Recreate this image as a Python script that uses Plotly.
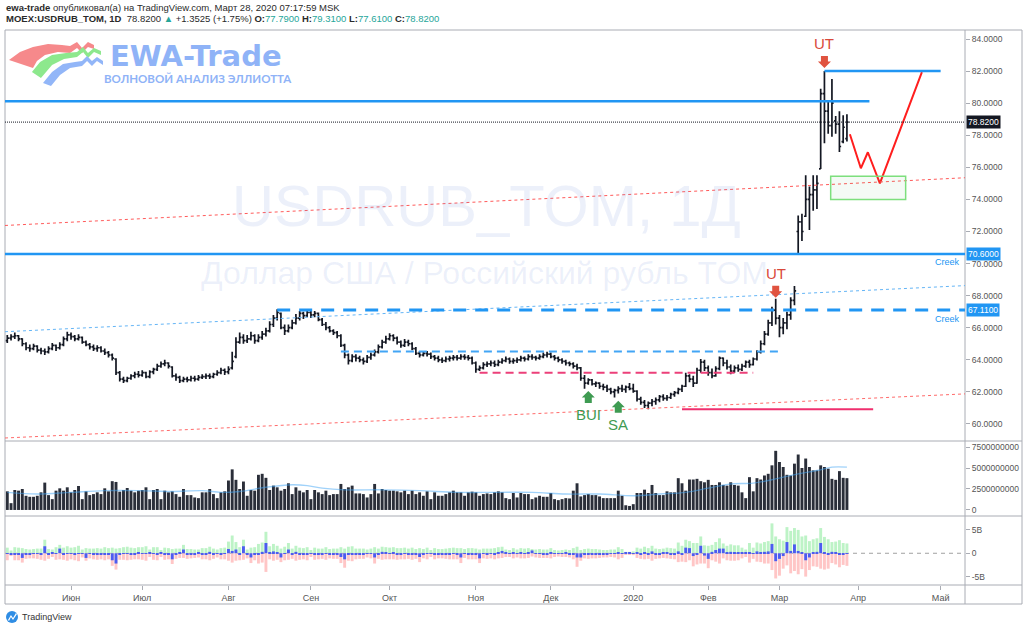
"""USDRUB_TOM daily chart (TradingView snapshot by ewa-trade) rebuilt with Plotly."""

import pandas as pd
import plotly.graph_objects as go

W, H = 1024, 629
FONT = "Liberation Sans"

# trading calendar: MOEX business days, Russian holidays removed
HOLIDAYS = ["2019-05-09", "2019-05-10", "2019-06-12", "2019-11-04", "2020-01-01",
            "2020-01-02", "2020-01-07", "2020-02-24", "2020-03-09"]
DATES = [d.strftime("%Y-%m-%d") for d in pd.bdate_range("2019-05-07", "2020-03-27")]
DATES = [d for d in DATES if d not in HOLIDAYS]

TICK_DATES = ["2019-06-03", "2019-07-01", "2019-08-01", "2019-09-02", "2019-10-01", "2019-11-01",
              "2019-12-02", "2020-01-03", "2020-02-03", "2020-03-02", "2020-04-01", "2020-05-01"]
TICK_TEXT = ["Июн", "Июл", "Авг", "Сен", "Окт", "Ноя", "Дек", "2020", "Фев", "Мар", "Апр", "Май"]

OPEN = [
    65.20, 65.35, 65.45, 65.50, 65.30, 65.00, 64.75, 64.70, 64.85, 64.60, 64.55, 64.50, 64.70, 64.90, 64.75,
    64.95, 65.30, 65.55, 65.45, 65.30, 65.40, 65.10, 64.95, 64.80, 64.70, 64.75, 64.55, 64.45, 64.30, 64.05,
    63.20, 62.80, 62.70, 62.85, 63.00, 63.10, 63.05, 63.20, 62.95, 63.25, 63.40, 63.60, 63.75, 63.80, 63.55,
    63.00, 62.90, 62.70, 62.80, 62.75, 62.85, 62.80, 62.90, 62.95, 63.00, 62.95, 63.10, 63.20, 63.35, 63.25,
    63.50, 64.20, 65.10, 65.40, 65.20, 65.30, 65.50, 65.20, 65.40, 65.60, 65.80, 66.20, 66.60, 66.90, 66.00,
    65.80, 66.00, 66.30, 66.60, 66.90, 66.75, 66.95, 66.80, 66.90, 66.50, 66.20, 66.00, 65.80, 65.70, 65.50,
    64.90, 64.30, 63.95, 64.20, 64.10, 64.00, 63.90, 64.15, 64.30, 64.50, 64.80, 65.10, 65.30, 65.50, 65.35,
    65.10, 64.90, 65.10, 65.00, 64.70, 64.40, 64.30, 64.40, 64.35, 64.20, 64.10, 64.00, 63.95, 64.05, 64.10,
    64.15, 64.10, 64.20, 64.15, 64.10, 63.80, 63.40, 63.50, 63.70, 63.75, 63.80, 63.70, 63.85, 63.95, 64.05,
    63.90, 63.95, 64.00, 64.10, 64.05, 64.20, 64.15, 64.10, 64.20, 64.30, 64.35, 64.20, 64.10, 64.00, 63.90,
    63.80, 63.75, 63.60, 63.50, 62.85, 62.55, 62.75, 62.50, 62.55, 62.35, 62.30, 62.15, 62.00, 62.10, 62.20,
    62.15, 62.30, 62.20, 62.05, 61.55, 61.35, 61.15, 61.30, 61.40, 61.50, 61.70, 61.60, 61.65, 61.85, 61.95,
    62.15, 62.35, 63.00, 62.80, 62.55, 63.35, 63.85, 63.50, 63.20, 63.00, 63.45, 64.10, 63.80, 63.55, 63.30,
    63.50, 63.40, 63.60, 63.85, 63.70, 64.05, 64.50, 65.00, 65.60, 66.30, 67.10, 66.60, 66.00, 66.30, 66.80,
    67.70, 72.00, 72.60, 72.95, 74.00, 74.30, 74.60, 75.90, 80.60, 79.50, 78.60, 78.90, 78.70, 77.60, 77.79,
]
HIGH = [
    65.55, 65.60, 65.70, 65.55, 65.35, 65.10, 64.95, 65.00, 64.90, 64.75, 64.70, 64.85, 65.05, 64.95, 65.10,
    65.45, 65.75, 65.70, 65.55, 65.60, 65.45, 65.20, 65.05, 64.95, 64.90, 64.85, 64.70, 64.55, 64.40, 64.10,
    63.30, 62.95, 62.95, 63.10, 63.25, 63.30, 63.35, 63.25, 63.35, 63.50, 63.75, 63.90, 64.00, 63.85, 63.60,
    63.15, 63.00, 62.95, 62.95, 63.00, 63.00, 63.05, 63.10, 63.15, 63.15, 63.20, 63.35, 63.50, 63.45, 63.60,
    64.50, 65.40, 65.70, 65.60, 65.55, 65.75, 65.60, 65.60, 65.80, 66.00, 66.40, 66.80, 67.15, 66.95, 66.20,
    66.20, 66.50, 66.85, 67.05, 67.00, 67.10, 67.05, 67.05, 66.95, 66.60, 66.35, 66.10, 65.90, 65.80, 65.60,
    65.00, 64.40, 64.35, 64.35, 64.25, 64.15, 64.30, 64.45, 64.65, 64.95, 65.25, 65.50, 65.65, 65.60, 65.45,
    65.20, 65.30, 65.25, 65.10, 64.80, 64.55, 64.55, 64.55, 64.45, 64.30, 64.25, 64.15, 64.20, 64.25, 64.30,
    64.30, 64.35, 64.35, 64.30, 64.20, 63.90, 63.65, 63.85, 63.90, 63.95, 63.95, 64.00, 64.10, 64.20, 64.15,
    64.10, 64.15, 64.25, 64.20, 64.35, 64.35, 64.25, 64.35, 64.45, 64.50, 64.45, 64.30, 64.20, 64.10, 64.00,
    63.90, 63.85, 63.75, 63.55, 63.05, 62.85, 62.80, 62.65, 62.60, 62.50, 62.45, 62.25, 62.20, 62.35, 62.45,
    62.40, 62.55, 62.50, 62.10, 61.70, 61.50, 61.40, 61.55, 61.65, 61.80, 61.85, 61.80, 61.95, 62.05, 62.25,
    62.45, 63.20, 63.10, 63.00, 63.50, 64.05, 64.00, 63.65, 63.45, 63.60, 64.20, 64.15, 64.00, 63.70, 63.65,
    63.70, 63.75, 63.95, 64.00, 64.15, 64.60, 65.20, 65.80, 66.50, 67.30, 67.80, 66.80, 66.60, 67.00, 67.90,
    68.60, 73.00, 73.10, 75.50, 74.80, 75.50, 75.50, 80.90, 82.00, 80.20, 81.50, 79.20, 79.50, 79.25, 79.31,
]
LOW = [
    65.05, 65.20, 65.30, 65.15, 64.85, 64.60, 64.50, 64.60, 64.45, 64.35, 64.30, 64.40, 64.60, 64.55, 64.65,
    64.85, 65.15, 65.25, 65.15, 65.20, 65.00, 64.85, 64.65, 64.55, 64.50, 64.45, 64.30, 64.15, 63.95, 63.05,
    62.65, 62.55, 62.60, 62.75, 62.85, 62.90, 62.95, 62.85, 62.85, 63.10, 63.30, 63.50, 63.60, 63.45, 62.90,
    62.70, 62.55, 62.60, 62.60, 62.65, 62.65, 62.70, 62.80, 62.80, 62.80, 62.85, 63.00, 63.10, 63.05, 63.10,
    63.40, 64.10, 65.00, 65.00, 65.05, 65.20, 65.00, 65.10, 65.25, 65.45, 65.70, 66.05, 66.45, 65.90, 65.55,
    65.70, 65.90, 66.20, 66.45, 66.55, 66.65, 66.60, 66.65, 66.40, 66.10, 65.85, 65.70, 65.55, 65.35, 64.80,
    64.10, 63.70, 63.85, 63.90, 63.85, 63.70, 63.80, 64.00, 64.20, 64.40, 64.70, 65.00, 65.20, 65.15, 64.95,
    64.75, 64.80, 64.85, 64.60, 64.30, 64.15, 64.20, 64.20, 64.05, 63.95, 63.85, 63.80, 63.85, 63.90, 63.95,
    63.95, 64.00, 64.00, 63.95, 63.70, 63.20, 63.30, 63.40, 63.55, 63.60, 63.55, 63.60, 63.75, 63.85, 63.75,
    63.75, 63.80, 63.90, 63.90, 63.95, 64.00, 63.95, 64.00, 64.10, 64.15, 64.10, 63.95, 63.85, 63.75, 63.65,
    63.60, 63.45, 63.35, 62.70, 62.20, 62.45, 62.40, 62.30, 62.20, 62.10, 62.00, 61.85, 61.65, 61.90, 62.00,
    61.95, 62.10, 61.95, 61.40, 61.20, 61.00, 60.92, 61.10, 61.20, 61.35, 61.45, 61.45, 61.55, 61.70, 61.85,
    62.00, 62.30, 62.60, 62.30, 62.50, 63.20, 63.30, 63.00, 62.85, 62.95, 63.35, 63.60, 63.40, 63.10, 63.20,
    63.25, 63.30, 63.50, 63.50, 63.65, 63.95, 64.40, 64.90, 65.50, 66.10, 66.20, 65.40, 65.60, 65.90, 66.50,
    67.40, 70.60, 71.40, 72.90, 72.10, 73.30, 73.40, 75.90, 77.50, 78.10, 77.90, 78.10, 76.95, 77.50, 77.61,
]
CLOSE = [
    65.35, 65.45, 65.50, 65.30, 65.00, 64.75, 64.70, 64.85, 64.60, 64.55, 64.50, 64.70, 64.90, 64.75, 64.95,
    65.30, 65.55, 65.45, 65.30, 65.40, 65.10, 64.95, 64.80, 64.70, 64.75, 64.55, 64.45, 64.30, 64.10, 63.20,
    62.80, 62.70, 62.85, 63.00, 63.10, 63.05, 63.20, 62.95, 63.25, 63.40, 63.60, 63.75, 63.80, 63.60, 63.00,
    62.90, 62.70, 62.80, 62.75, 62.85, 62.80, 62.90, 62.95, 63.00, 62.95, 63.10, 63.20, 63.35, 63.25, 63.40,
    63.90, 65.10, 65.40, 65.20, 65.30, 65.50, 65.20, 65.40, 65.60, 65.80, 66.20, 66.60, 66.95, 66.00, 65.80,
    66.00, 66.30, 66.60, 66.90, 66.75, 66.95, 66.80, 66.90, 66.50, 66.20, 66.00, 65.80, 65.70, 65.50, 64.90,
    64.30, 63.95, 64.20, 64.10, 64.00, 63.90, 64.15, 64.30, 64.50, 64.80, 65.10, 65.30, 65.50, 65.35, 65.10,
    64.90, 65.10, 65.00, 64.70, 64.40, 64.30, 64.40, 64.35, 64.20, 64.10, 64.00, 63.95, 64.05, 64.10, 64.15,
    64.10, 64.20, 64.15, 64.10, 63.80, 63.40, 63.50, 63.70, 63.75, 63.80, 63.70, 63.85, 63.95, 64.05, 63.90,
    63.95, 64.00, 64.10, 64.05, 64.20, 64.15, 64.10, 64.20, 64.30, 64.35, 64.20, 64.10, 64.00, 63.90, 63.80,
    63.75, 63.60, 63.50, 62.85, 62.55, 62.75, 62.50, 62.55, 62.35, 62.30, 62.15, 62.00, 62.10, 62.20, 62.15,
    62.30, 62.20, 62.05, 61.55, 61.35, 61.15, 61.30, 61.40, 61.50, 61.70, 61.60, 61.65, 61.85, 61.95, 62.15,
    62.35, 63.00, 62.80, 62.55, 63.35, 63.85, 63.50, 63.20, 63.00, 63.45, 64.10, 63.80, 63.55, 63.30, 63.50,
    63.40, 63.60, 63.85, 63.70, 64.05, 64.50, 65.00, 65.60, 66.30, 67.10, 66.60, 66.00, 66.30, 66.80, 67.70,
    68.30, 72.60, 72.00, 74.00, 74.30, 74.60, 75.00, 80.60, 79.50, 78.60, 80.00, 78.70, 77.30, 78.50, 78.82,
]

# volume, billions
VOLUME = [
    2.22, 0.81, 2.38, 2.30, 2.50, 1.69, 1.57, 1.57, 1.69, 2.10, 3.26, 1.77, 1.29, 2.30, 2.58,
    2.30, 2.70, 2.10, 2.38, 2.86, 1.29, 2.22, 1.77, 1.89, 2.10, 1.89, 2.58, 2.22, 3.43, 3.34,
    2.18, 2.38, 2.62, 2.30, 2.10, 2.30, 2.38, 2.70, 1.29, 2.38, 2.50, 1.29, 2.30, 2.10, 2.22,
    1.89, 1.57, 2.50, 1.77, 1.77, 1.49, 1.41, 2.10, 2.10, 2.50, 1.89, 1.41, 2.10, 2.22, 3.51,
    4.84, 3.59, 2.50, 3.39, 1.69, 2.38, 2.30, 4.19, 4.31, 3.83, 2.38, 2.90, 2.70, 2.30, 2.50,
    3.18, 1.89, 2.70, 2.30, 2.10, 2.38, 1.29, 2.38, 2.10, 1.89, 2.30, 1.77, 1.89, 1.89, 3.10,
    2.50, 2.70, 2.90, 1.97, 1.97, 1.89, 1.49, 1.89, 3.10, 1.97, 2.50, 2.38, 2.30, 2.30, 2.22,
    2.10, 2.30, 1.89, 2.30, 1.89, 2.10, 1.69, 2.22, 1.29, 2.10, 1.69, 1.69, 1.89, 2.10, 2.30,
    2.10, 2.10, 1.69, 2.10, 2.18, 2.10, 1.69, 1.89, 1.97, 1.89, 2.10, 2.22, 2.10, 1.41, 1.29,
    2.02, 1.49, 2.02, 1.89, 1.89, 1.29, 1.49, 1.69, 1.57, 1.57, 2.02, 1.29, 1.17, 1.29, 1.41,
    1.37, 2.30, 3.18, 1.61, 1.77, 1.89, 1.77, 1.77, 1.61, 1.41, 1.41, 1.41, 1.41, 2.30, 1.69,
    0.56, 0.48, 0.69, 2.02, 2.02, 2.42, 2.02, 2.98, 2.02, 1.77, 1.77, 2.22, 2.10, 2.10, 3.79,
    3.18, 2.30, 3.63, 3.63, 3.71, 3.43, 3.30, 3.59, 2.98, 2.98, 3.30, 2.98, 2.90, 3.30, 2.98,
    2.90, 2.10, 1.41, 3.91, 2.22, 3.79, 3.63, 4.11, 4.31, 5.32, 7.05, 5.72, 5.12, 4.19, 4.11,
    5.52, 6.61, 5.00, 6.13, 5.12, 4.72, 4.72, 5.32, 5.12, 4.92, 3.71, 3.59, 4.63, 3.83, 3.79,
]
# volume moving average, read at a few bars
MA_IDX = [0, 8, 17, 26, 35, 44, 52, 57, 62, 69, 76, 80, 84, 90, 100, 110, 120, 131, 140, 149,
          158, 167, 174, 181, 187, 193, 199, 205, 211, 216, 220, 224]
MA_VAL = [2.1, 1.9, 2.1, 2.3, 2.3, 2.2, 2.3, 2.1, 2.2, 2.7, 3.0, 2.9, 2.6, 2.4, 2.4, 2.3, 2.1, 2.1, 2.1, 1.9,
          1.9, 1.7, 1.9, 2.1, 2.6, 3.1, 3.2, 3.7, 4.3, 4.7, 5.1, 5.1]

# lower study, billions: buy side, sell side, net
BUY = [
    1.2, 0.6, 1.3, 1.2, 1.1, 0.9, 0.8, 0.9, 1.0, 1.0, 2.9, 0.9, 0.8, 1.3, 1.8,
    1.2, 1.5, 1.2, 1.3, 1.6, 0.8, 1.1, 1.0, 1.0, 1.1, 1.0, 1.3, 1.1, 1.2, 1.0,
    1.1, 1.3, 1.4, 1.2, 1.1, 1.3, 1.3, 1.5, 0.8, 1.3, 1.3, 0.7, 1.2, 1.1, 0.9,
    1.0, 1.0, 1.8, 0.9, 0.9, 0.8, 0.8, 1.1, 1.1, 1.4, 1.0, 0.8, 1.1, 1.2, 2.5,
    3.8, 2.4, 1.3, 2.9, 0.8, 1.2, 1.3, 2.0, 2.3, 4.6, 1.5, 2.0, 1.6, 1.0, 1.4,
    2.2, 1.0, 1.6, 1.2, 1.1, 1.3, 0.7, 1.2, 1.0, 1.0, 1.3, 0.9, 1.0, 1.0, 1.3,
    1.0, 1.4, 1.5, 1.0, 1.0, 1.0, 0.8, 1.0, 1.3, 1.0, 1.4, 1.3, 1.2, 1.3, 1.1,
    1.1, 1.2, 1.0, 1.2, 0.9, 1.1, 0.9, 1.2, 0.7, 1.1, 0.9, 0.9, 1.0, 1.1, 1.2,
    1.1, 1.1, 0.9, 1.1, 1.1, 1.0, 0.8, 1.0, 1.0, 1.0, 1.1, 1.3, 1.4, 0.8, 0.7,
    1.1, 0.8, 1.1, 1.0, 1.1, 0.9, 0.8, 0.9, 0.8, 0.8, 1.1, 0.7, 0.6, 0.7, 0.8,
    0.7, 1.1, 1.4, 0.7, 0.9, 1.0, 0.9, 0.9, 0.8, 0.7, 0.7, 0.8, 0.8, 1.3, 0.9,
    0.3, 0.3, 0.4, 1.2, 1.0, 1.4, 1.1, 1.6, 1.0, 0.9, 1.0, 1.2, 1.1, 1.0, 2.3,
    1.6, 2.9, 2.6, 2.2, 2.2, 3.6, 1.7, 1.6, 1.8, 2.4, 3.2, 2.1, 1.6, 1.9, 1.7,
    1.7, 1.2, 0.8, 2.2, 1.2, 2.3, 2.1, 2.4, 2.6, 6.4, 3.6, 3.0, 2.7, 5.6, 4.8,
    5.4, 5.0, 3.6, 3.8, 2.6, 3.0, 3.2, 5.4, 3.5, 3.0, 2.4, 2.5, 2.8, 2.2, 2.1,
]
SELL = [
    -1.5, -0.6, -1.5, -1.5, -2.0, -1.2, -1.1, -1.1, -1.2, -1.4, -1.6, -1.2, -0.8, -1.4, -1.3,
    -1.4, -1.6, -1.3, -1.5, -1.7, -0.9, -1.6, -1.1, -1.3, -1.4, -1.3, -1.5, -1.3, -2.7, -3.5,
    -1.4, -1.4, -1.5, -1.4, -1.3, -1.3, -1.4, -1.6, -0.8, -1.4, -1.5, -0.8, -1.4, -1.3, -2.3,
    -1.2, -1.0, -1.0, -1.2, -1.1, -1.0, -0.9, -1.3, -1.3, -1.5, -1.2, -0.9, -1.3, -1.3, -1.6,
    -2.0, -1.6, -1.5, -1.4, -1.1, -2.1, -1.5, -2.2, -2.0, -4.0, -1.3, -1.6, -1.4, -1.9, -1.5,
    -1.4, -1.2, -1.6, -1.4, -1.3, -1.5, -0.8, -1.4, -1.3, -1.2, -1.4, -1.1, -1.2, -1.2, -2.1,
    -3.1, -1.6, -1.7, -1.3, -1.2, -1.2, -0.9, -1.1, -2.2, -1.2, -1.4, -1.3, -1.3, -1.3, -1.4,
    -1.3, -1.3, -1.2, -1.4, -1.2, -1.9, -1.1, -1.3, -0.8, -1.3, -1.1, -1.1, -1.2, -1.3, -1.3,
    -1.3, -2.1, -1.0, -1.3, -1.3, -1.3, -2.1, -1.1, -1.2, -1.1, -1.3, -1.1, -1.0, -0.8, -0.8,
    -1.1, -0.9, -1.1, -1.1, -1.0, -0.7, -0.9, -1.0, -1.0, -1.0, -1.1, -0.8, -0.7, -0.8, -0.8,
    -0.9, -1.3, -2.9, -1.6, -1.1, -1.2, -1.1, -1.1, -1.0, -0.9, -0.9, -0.8, -0.9, -1.3, -1.0,
    -0.3, -0.3, -0.4, -1.0, -1.2, -1.3, -1.2, -1.6, -1.2, -1.1, -1.0, -1.1, -1.2, -1.3, -1.9,
    -1.8, -1.9, -1.5, -2.8, -2.4, -2.2, -2.2, -3.2, -1.5, -1.8, -2.2, -1.1, -1.5, -1.6, -1.6,
    -1.5, -1.1, -0.8, -2.0, -1.2, -1.8, -1.9, -2.2, -2.2, -3.6, -5.4, -4.8, -3.3, -2.6, -4.3,
    -3.8, -4.5, -3.4, -5.0, -3.6, -2.8, -2.9, -3.3, -3.5, -3.3, -2.1, -2.4, -3.0, -2.5, -2.7,
]
NET = [
    -0.1, -0.3, -0.2, -0.2, -1.0, -0.2, -0.2, -0.1, -0.1, -0.3, 1.5, -0.2, 0.1, -0.1, 1.0,
    -0.2, -0.1, -0.1, -0.2, -0.1, -0.1, -1.0, -0.1, -0.3, -0.3, -0.3, -0.2, -0.2, -1.5, -2.2,
    -0.3, -0.1, -0.1, -0.2, -0.2, 0.1, -0.1, -0.1, 0.1, -0.1, -0.2, 0.1, -0.2, -0.2, -1.3,
    -0.2, 0.1, 0.8, -0.3, -0.2, -0.2, 0.1, -0.2, -0.2, 0.3, -0.2, -0.1, -0.2, -0.1, 0.9,
    0.5, 0.8, -0.2, 1.5, -0.3, -0.9, -0.2, -0.2, 0.3, 2.2, 0.2, 0.4, 0.2, -0.9, -0.1,
    0.8, -0.2, 0.3, -0.2, -0.2, -0.2, -0.1, -0.2, -0.3, -0.2, -0.1, -0.2, -0.2, -0.2, -0.8,
    -1.3, -0.2, -0.2, -0.3, -0.2, -0.2, -0.1, -0.1, -0.9, -0.2, 0.3, 0.2, -0.1, 0.2, -0.3,
    -0.2, -0.1, -0.2, -0.2, -0.3, -0.8, -0.2, -0.1, -0.1, -0.2, -0.2, -0.2, -0.2, -0.2, -0.1,
    -0.2, -0.9, -0.1, -0.2, -0.2, -0.3, -1.1, -0.1, -0.2, -0.1, -0.2, 0.2, 0.5, 0.1, -0.1,
    0.1, -0.1, 0.1, -0.1, 0.2, 0.6, -0.1, -0.1, -0.2, -0.2, 0.1, -0.1, -0.1, -0.1, 0.1,
    -0.2, -0.2, -0.9, -0.9, -0.2, -0.2, -0.2, -0.2, -0.2, -0.2, -0.2, -0.1, -0.1, 0.1, -0.1,
    0.1, 0.1, -0.1, 0.2, -0.2, 0.1, -0.2, 0.4, -0.2, -0.2, 0.1, 0.2, -0.2, -0.3, 0.4,
    -0.2, 1.2, 1.1, -0.6, -0.2, 1.6, -0.5, -1.2, 0.3, 0.7, 1.0, 1.0, 0.2, 0.3, 0.1,
    0.2, 0.1, 0.1, 0.2, -0.1, 0.4, 0.2, 0.3, 0.4, 2.0, -1.7, -1.2, -0.6, 2.4, 0.5,
    1.9, 0.5, 0.2, -1.5, -0.9, 0.2, 0.3, 2.2, 0.1, -0.3, 0.3, 0.1, -0.2, -0.3, -0.1,
]

# hand-drawn wave marks on the chart
ZIGZAG_X = ["2020-03-27 19:00", "2020-04-01 17:00", "2020-04-03 14:00", "2020-04-08 19:00", "2020-04-24"]
ZIGZAG_Y = [78.06, 75.94, 76.94, 75.00, 81.94]

for arr in (OPEN, HIGH, LOW, CLOSE, VOLUME, BUY, SELL, NET):
    assert len(arr) == len(DATES), (len(arr), len(DATES))

X_RANGE = ["2019-05-06 09:20", "2020-05-11 12:00"]
BLUE = "#2196f3"
FRAME = "#a9acb4"


def px(x):
    return x / W


def py(y):
    return 1 - y / H


shapes = []


def line(x0, y0, x1, y1, color, width=1, dash="solid", xref="x", yref="y", layer="above"):
    shapes.append(dict(type="line", x0=x0, y0=y0, x1=x1, y1=y1, xref=xref, yref=yref, layer=layer,
                       line=dict(color=color, width=width, dash=dash)))


def arrow(xd, yv, color, up):
    s = -1 if up else 1
    path = (f"M 0 0 L 6.5 {6.5*s} L 3.5 {6.5*s} L 3.5 {12*s} L -3.5 {12*s} "
            f"L -3.5 {6.5*s} L -6.5 {6.5*s} Z")
    shapes.append(dict(type="path", xref="x", yref="y", xsizemode="pixel", ysizemode="pixel",
                       xanchor=xd, yanchor=yv, path=path, fillcolor=color, line=dict(width=0)))


fig = go.Figure()

fig.add_trace(go.Ohlc(
    x=DATES, open=OPEN, high=HIGH, low=LOW, close=CLOSE,
    increasing=dict(line=dict(color="#131722", width=1.7)),
    decreasing=dict(line=dict(color="#131722", width=1.7)),
    tickwidth=0.45, xaxis="x", yaxis="y", hoverinfo="skip",
))
fig.add_trace(go.Scatter(x=ZIGZAG_X, y=ZIGZAG_Y, mode="lines", line=dict(color="#ff1e1e", width=2),
                         xaxis="x", yaxis="y", hoverinfo="skip"))

fig.add_trace(go.Bar(x=DATES, y=VOLUME, marker=dict(color="#2a2e39", line=dict(width=0)),
                     xaxis="x", yaxis="y2", hoverinfo="skip"))
fig.add_trace(go.Scatter(x=[DATES[i] for i in MA_IDX], y=MA_VAL, mode="lines",
                         line=dict(color="rgba(66,165,245,0.5)", width=1.4, shape="spline"),
                         xaxis="x", yaxis="y2", hoverinfo="skip"))

fig.add_trace(go.Bar(x=DATES, y=BUY, marker=dict(color="#bdf3c6", line=dict(width=0)),
                     xaxis="x", yaxis="y3", hoverinfo="skip"))
fig.add_trace(go.Bar(x=DATES, y=SELL, marker=dict(color="#ffc6c6", line=dict(width=0)),
                     xaxis="x", yaxis="y3", hoverinfo="skip"))
fig.add_trace(go.Bar(x=DATES, y=NET, marker=dict(color="#4c5cf0", line=dict(width=0)),
                     xaxis="x", yaxis="y3", hoverinfo="skip"))

# frame of the chart widget
shapes.append(dict(type="rect", xref="paper", yref="paper", x0=px(5), y0=py(604), x1=px(1022), y1=py(30),
                   line=dict(color=FRAME, width=1)))
line(px(965), py(30), px(965), py(604), FRAME, 1, xref="paper", yref="paper")
for yy in (441, 516, 585):
    line(px(5), py(yy), px(1022), py(yy), FRAME, 1, xref="paper", yref="paper")

# drawings on the price pane
line(px(5), 65.75, px(965), 68.625, "#64b5f6", 1, "3px,3px", xref="paper")
line(px(5), 72.375, px(965), 75.35, "#ff5a5a", 1, "3px,3px", xref="paper")
line(px(5), 59.125, px(965), 61.875, "#ff6b6b", 1, "3px,3px", xref="paper")
line(px(5), 78.82, px(965), 78.82, "#131722", 1, "1px,1px", xref="paper")
line(px(5), 80.125, "2020-04-06", 80.125, BLUE, 2.5, xref="x")
line(px(5), 70.6, px(965), 70.6, BLUE, 2.5, xref="paper")
line("2020-03-19", 82.0, "2020-05-01", 82.0, BLUE, 2.5)
line("2019-08-20", 67.11, X_RANGE[1], 67.11, BLUE, 3, "13px,9px")
line("2019-09-12", 64.52, "2020-03-02", 64.52, "#42a5f5", 2, "8px,5px")
line("2019-11-05", 63.2, "2020-02-19", 63.2, "#ec407a", 2, "8px,5px")
line("2020-01-23", 60.92, "2020-04-07", 60.92, "#ef2f6e", 2)
shapes.append(dict(type="rect", xref="x", yref="y", x0="2020-03-20 16:00", x1="2020-04-17 16:00",
                   y0=74.0, y1=75.44, fillcolor="rgba(76,175,80,0.06)", line=dict(color="#7ddf7d", width=1.5)))
line(px(5), 0, px(965), 0, "#a0a0a0", 1, "4px,4px", xref="paper", yref="y3", layer="below")

arrow(DATES[218], 82.19, "#e0533f", up=False)
arrow(DATES[205], 67.875, "#e0533f", up=False)
arrow(DATES[155], 62.06, "#3f9b52", up=True)
arrow(DATES[163], 61.44, "#3f9b52", up=True)


# logo swooshes (paper coords from pixels)
def poly(points, color):
    d = "M " + " L ".join(f"{px(a):.4f} {py(b):.4f}" for a, b in points) + " Z"
    shapes.append(dict(type="path", xref="paper", yref="paper", path=d, fillcolor=color, line=dict(width=0)))


poly([(9, 60), (20, 52), (33, 47), (48, 44), (62, 45), (70, 46), (77, 42), (82, 48), (88, 42), (94, 45),
      (94, 49), (88, 47), (82, 53), (77, 48), (70, 53), (58, 52), (45, 55), (37, 61), (33, 68)], "#f6898b")
poly([(32, 72), (40, 62), (52, 55), (66, 53), (77, 52), (83, 47), (88, 53), (94, 48), (101, 51),
      (101, 55), (94, 52), (88, 58), (83, 52), (77, 57), (64, 59), (52, 65), (41, 78)], "#8de88d")
poly([(43, 83), (52, 72), (63, 64), (75, 62), (82, 61), (87, 56), (92, 61), (97, 57), (103, 61),
      (103, 65), (97, 61), (92, 66), (87, 61), (82, 66), (70, 68), (60, 75), (51, 86)], "#92b6f8")

# TradingView footer icon
shapes.append(dict(type="circle", xref="paper", yref="paper", x0=px(6), x1=px(18), y0=py(623), y1=py(611),
                   fillcolor="#2f8de4", line=dict(width=0)))
poly([(8, 620), (11, 615), (13, 618), (16, 613), (17, 614), (13, 620), (11, 617), (9, 621)], "white")

TEAL = "#26a69a"
WM = "rgba(110,140,215,0.13)"
annotations = [
    dict(xref="paper", yref="paper", x=px(4), y=py(7.5), xanchor="left", yanchor="middle", showarrow=False,
         text="<b>ewa-trade</b> опубликовал(а) на TradingView.com, Март 28, 2020 07:17:59 MSK",
         font=dict(family=FONT, size=9.5, color="#2a2a2a")),
    dict(xref="paper", yref="paper", x=px(4), y=py(19), xanchor="left", yanchor="middle", showarrow=False,
         text=('<b>MOEX:USDRUB_TOM, 1D</b>  78.8200 <span style="color:%s">▲</span> +1.3525 (+1.75%%) '
               '<b>O:</b><span style="color:%s">77.7900</span> <b>H:</b><span style="color:%s">79.3100</span> '
               '<b>L:</b><span style="color:%s">77.6100</span> <b>C:</b><span style="color:%s">78.8200</span>')
              % (TEAL, TEAL, TEAL, TEAL, TEAL),
         font=dict(family=FONT, size=9.5, color="#2a2a2a")),
    # logo text
    dict(xref="paper", yref="paper", x=px(108), y=py(55.5), xanchor="left", yanchor="middle", showarrow=False,
         text="<b>EWA-Trade</b>", font=dict(family="DejaVu Sans", size=29, color="#8fb3f7")),
    dict(xref="paper", yref="paper", x=px(102), y=py(78), xanchor="left", yanchor="middle", showarrow=False,
         text="<b>ВОЛНОВОЙ АНАЛИЗ ЭЛЛИОТТА</b>", font=dict(family="Lato", size=11.5, color="#8fb3f7")),
    # watermark
    dict(xref="paper", yref="paper", x=px(486), y=py(205), xanchor="center", yanchor="middle", showarrow=False,
         text="USDRUB_TOM, 1Д", font=dict(family=FONT, size=58, color=WM)),
    dict(xref="paper", yref="paper", x=px(484), y=py(273), xanchor="center", yanchor="middle", showarrow=False,
         text="Доллар США / Российский рубль TOM", font=dict(family=FONT, size=32, color=WM)),
    # wave labels
    dict(x=DATES[218], y=82.19, yanchor="bottom", yshift=14, showarrow=False, text="UT",
         font=dict(family=FONT, size=15, color="#d9493a")),
    dict(x=DATES[205], y=67.875, yanchor="bottom", yshift=14, showarrow=False, text="UT",
         font=dict(family=FONT, size=15, color="#d9493a")),
    dict(x=DATES[155], y=62.06, yanchor="top", yshift=-13, showarrow=False, text="BUI",
         font=dict(family=FONT, size=15, color="#3f9b52")),
    dict(x=DATES[163], y=61.44, yanchor="top", yshift=-13, showarrow=False, text="SA",
         font=dict(family=FONT, size=15, color="#3f9b52")),
    dict(xref="paper", x=px(962), y=70.6, xanchor="right", yanchor="top", yshift=-1, showarrow=False,
         text="Creek", font=dict(family=FONT, size=9, color=BLUE)),
    dict(xref="paper", x=px(962), y=67.11, xanchor="right", yanchor="top", yshift=-2, showarrow=False,
         text="Creek", font=dict(family=FONT, size=9, color=BLUE)),
    dict(xref="paper", yref="paper", x=px(20), y=py(617), xanchor="left", yanchor="middle", showarrow=False,
         text="TradingView", font=dict(family=FONT, size=9, color="#333")),
]
for val, bg in ((78.82, "#131722"), (70.6, BLUE), (67.11, BLUE)):
    annotations.append(dict(xref="paper", yref="y", x=px(966), y=val, xanchor="left", yanchor="middle",
                            showarrow=False, text=f"{val:.4f}", bgcolor=bg, borderpad=1,
                            font=dict(family=FONT, size=8.5, color="white")))

axis_font = dict(family=FONT, size=8.5, color="#555")
fig.update_layout(
    width=W, height=H,
    margin=dict(l=0, r=0, t=0, b=0),
    paper_bgcolor="white", plot_bgcolor="white",
    showlegend=False, barmode="overlay", bargap=0.22,
    xaxis=dict(domain=[px(5), px(965)], anchor="y3", range=X_RANGE, type="date",
               rangebreaks=[dict(bounds=["sat", "mon"]), dict(values=HOLIDAYS)],
               tickvals=TICK_DATES, ticktext=TICK_TEXT, ticks="outside", ticklen=4, tickcolor=FRAME,
               tickfont=dict(family=FONT, size=9, color="#555"), showgrid=False, zeroline=False,
               showline=False, rangeslider=dict(visible=False)),
    yaxis=dict(domain=[py(441), py(30)], anchor="x", side="right", range=[58.9375, 84.5625],
               tickvals=list(range(60, 86, 2)), tickformat=".4f", ticks="outside", ticklen=4,
               tickcolor=FRAME, tickfont=axis_font, showgrid=False, zeroline=False),
    yaxis2=dict(domain=[py(516), py(441)], anchor="x", side="right", range=[-0.72, 8.22],
                tickvals=[0, 2.5, 5, 7.5], ticktext=["0", "2500000000", "5000000000", "7500000000"],
                ticks="outside", ticklen=4, tickcolor=FRAME, tickfont=axis_font, showgrid=False, zeroline=False),
    yaxis3=dict(domain=[py(585), py(516)], anchor="x", side="right", range=[-6.8, 7.98],
                tickvals=[-5, 0, 5], ticktext=["-5B", "0", "5B"], ticks="outside", ticklen=4,
                tickcolor=FRAME, tickfont=axis_font, showgrid=False, zeroline=False),
    shapes=shapes,
    annotations=annotations,
)

# the page's default 8px body margin would push the 1024x629 figure off the window
fig.write_html("out.html", config={"displayModeBar": False},
               post_script="document.body.style.margin='0px';")
